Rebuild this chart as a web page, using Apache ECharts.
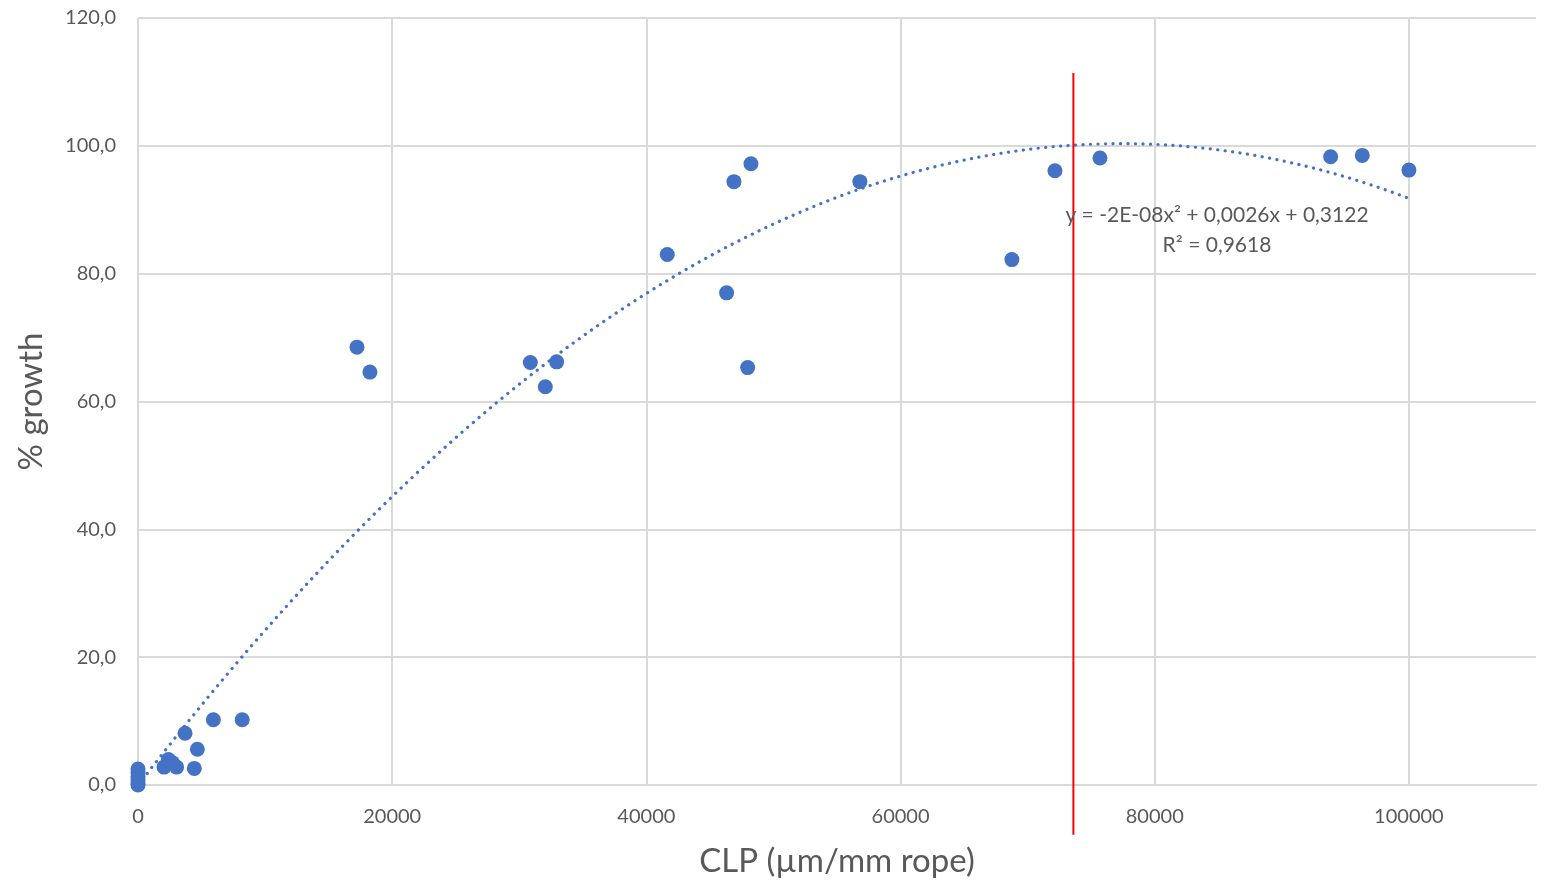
<!DOCTYPE html>
<html><head><meta charset="utf-8">
<script src="https://cdn.jsdelivr.net/npm/echarts@6/dist/echarts.min.js"></script>
<style>html,body{margin:0;padding:0;background:#fff}#c{width:1549px;height:883px}</style>
</head><body><div id="c"></div>
<script>
// CLP (µm/mm rope) values and % growth
const clpX = [0, 0, 0, 0, 0, 0, 2045, 3040, 4430, 2390, 2700, 4670, 3700, 5930, 8200,
  17230, 18250, 30870, 32940, 32050, 48230, 46890, 41645, 46310, 47970,
  56800, 68760, 72150, 75690, 93840, 96330, 100000];
const growthY = [0, 0.3, 0.8, 1.3, 1.9, 2.5, 2.8, 2.8, 2.6, 4.0, 3.5, 5.6, 8.1, 10.2, 10.2,
  68.5, 64.6, 66.1, 66.2, 62.3, 97.2, 94.4, 83.0, 77.0, 65.3,
  94.4, 82.2, 96.1, 98.1, 98.3, 98.5, 96.2];
const xTicks = [0, 20000, 40000, 60000, 80000, 100000];
const yTicks = [0, 20, 40, 60, 80, 100, 120];
const markerX = 73600;
const markerYRange = [-7.8, 111.4];
const eqText = 'y = -2E-08x² + 0,0026x + 0,3122';
const r2Text = 'R² = 0,9618';

// least-squares quadratic fit of the data (polynomial trendline)
function quadFit(xs, ys) {
  const n = xs.length; let s = [0,0,0,0,0], t = [0,0,0];
  for (let i = 0; i < n; i++) { const x = xs[i] / 1e5, y = ys[i];
    let p = 1; for (let k = 0; k < 5; k++) { s[k] += p; if (k < 3) t[k] += p * y; p *= x; } }
  const M = [[s[0], s[1], s[2], t[0]], [s[1], s[2], s[3], t[1]], [s[2], s[3], s[4], t[2]]];
  for (let i = 0; i < 3; i++) { for (let j = i + 1; j < 3; j++) { const f = M[j][i] / M[i][i];
    for (let k = i; k < 4; k++) M[j][k] -= f * M[i][k]; } }
  const c = [0,0,0];
  for (let i = 2; i >= 0; i--) { let v = M[i][3]; for (let k = i + 1; k < 3; k++) v -= M[i][k] * c[k]; c[i] = v / M[i][i]; }
  return x => c[0] + c[1] * (x / 1e5) + c[2] * (x / 1e5) * (x / 1e5);
}
const fit = quadFit(clpX, growthY);
const xMaxData = Math.max(...clpX);
const trend = [];
for (let i = 0; i <= 100; i++) { const x = xMaxData * i / 100; trend.push([x, fit(x)]); }

const font = 'Lato, "Open Sans", sans-serif';
const chart = echarts.init(document.getElementById('c'));
chart.setOption({
  animation: false,
  textStyle: { fontFamily: font },
  grid: { left: 138, right: 13, top: 18, bottom: 97 },
  xAxis: {
    type: 'value', min: 0, max: 110000, interval: 20000,
    name: 'CLP (µm/mm rope)', nameLocation: 'middle', nameGap: 60,
    nameTextStyle: { fontSize: 33, color: '#595959', fontFamily: font },
    axisLine: { show: true, lineStyle: { color: '#d9d9d9', width: 2 } },
    axisTick: { show: false },
    axisLabel: { fontSize: 20, color: '#595959', margin: 22, showMaxLabel: false,
      formatter: v => xTicks.includes(v) ? String(v) : '' },
    splitLine: { show: true, showMaxLine: false, lineStyle: { color: '#d9d9d9', width: 2 } }
  },
  yAxis: {
    type: 'value', min: 0, max: 120, interval: 20,
    name: '% growth', nameLocation: 'middle', nameGap: 90, nameRotate: 90,
    nameTextStyle: { fontSize: 33, color: '#595959', fontFamily: font },
    axisLine: { show: false }, axisTick: { show: false },
    axisLabel: { fontSize: 20, color: '#595959', margin: 22,
      formatter: v => yTicks.includes(v) ? v.toFixed(1).replace('.', ',') : '' },
    splitLine: { show: true, lineStyle: { color: '#d9d9d9', width: 2 } }
  },
  series: [
    { type: 'line', data: trend, showSymbol: false, symbol: 'none', z: 3,
      lineStyle: { color: '#4472C4', width: 3.2, type: [0.1, 7.4], cap: 'round' } },
    { type: 'scatter', data: clpX.map((x, i) => [x, growthY[i]]), symbolSize: 15, z: 4,
      itemStyle: { color: '#4472C4', opacity: 1 } },
    { type: 'line', data: [[markerX, markerYRange[0]], [markerX, markerYRange[1]]], clip: false,
      symbol: 'none', z: 5, lineStyle: { color: '#FF0000', width: 2 } }
  ],
  graphic: [
    { type: 'text', x: 1217, y: 215, z: 10,
      style: { text: eqText, fontSize: 21, fill: '#595959', fontFamily: font, align: 'center', verticalAlign: 'middle' } },
    { type: 'text', x: 1217, y: 245, z: 10,
      style: { text: r2Text, fontSize: 21, fill: '#595959', fontFamily: font, align: 'center', verticalAlign: 'middle' } }
  ]
});
</script></body></html>
